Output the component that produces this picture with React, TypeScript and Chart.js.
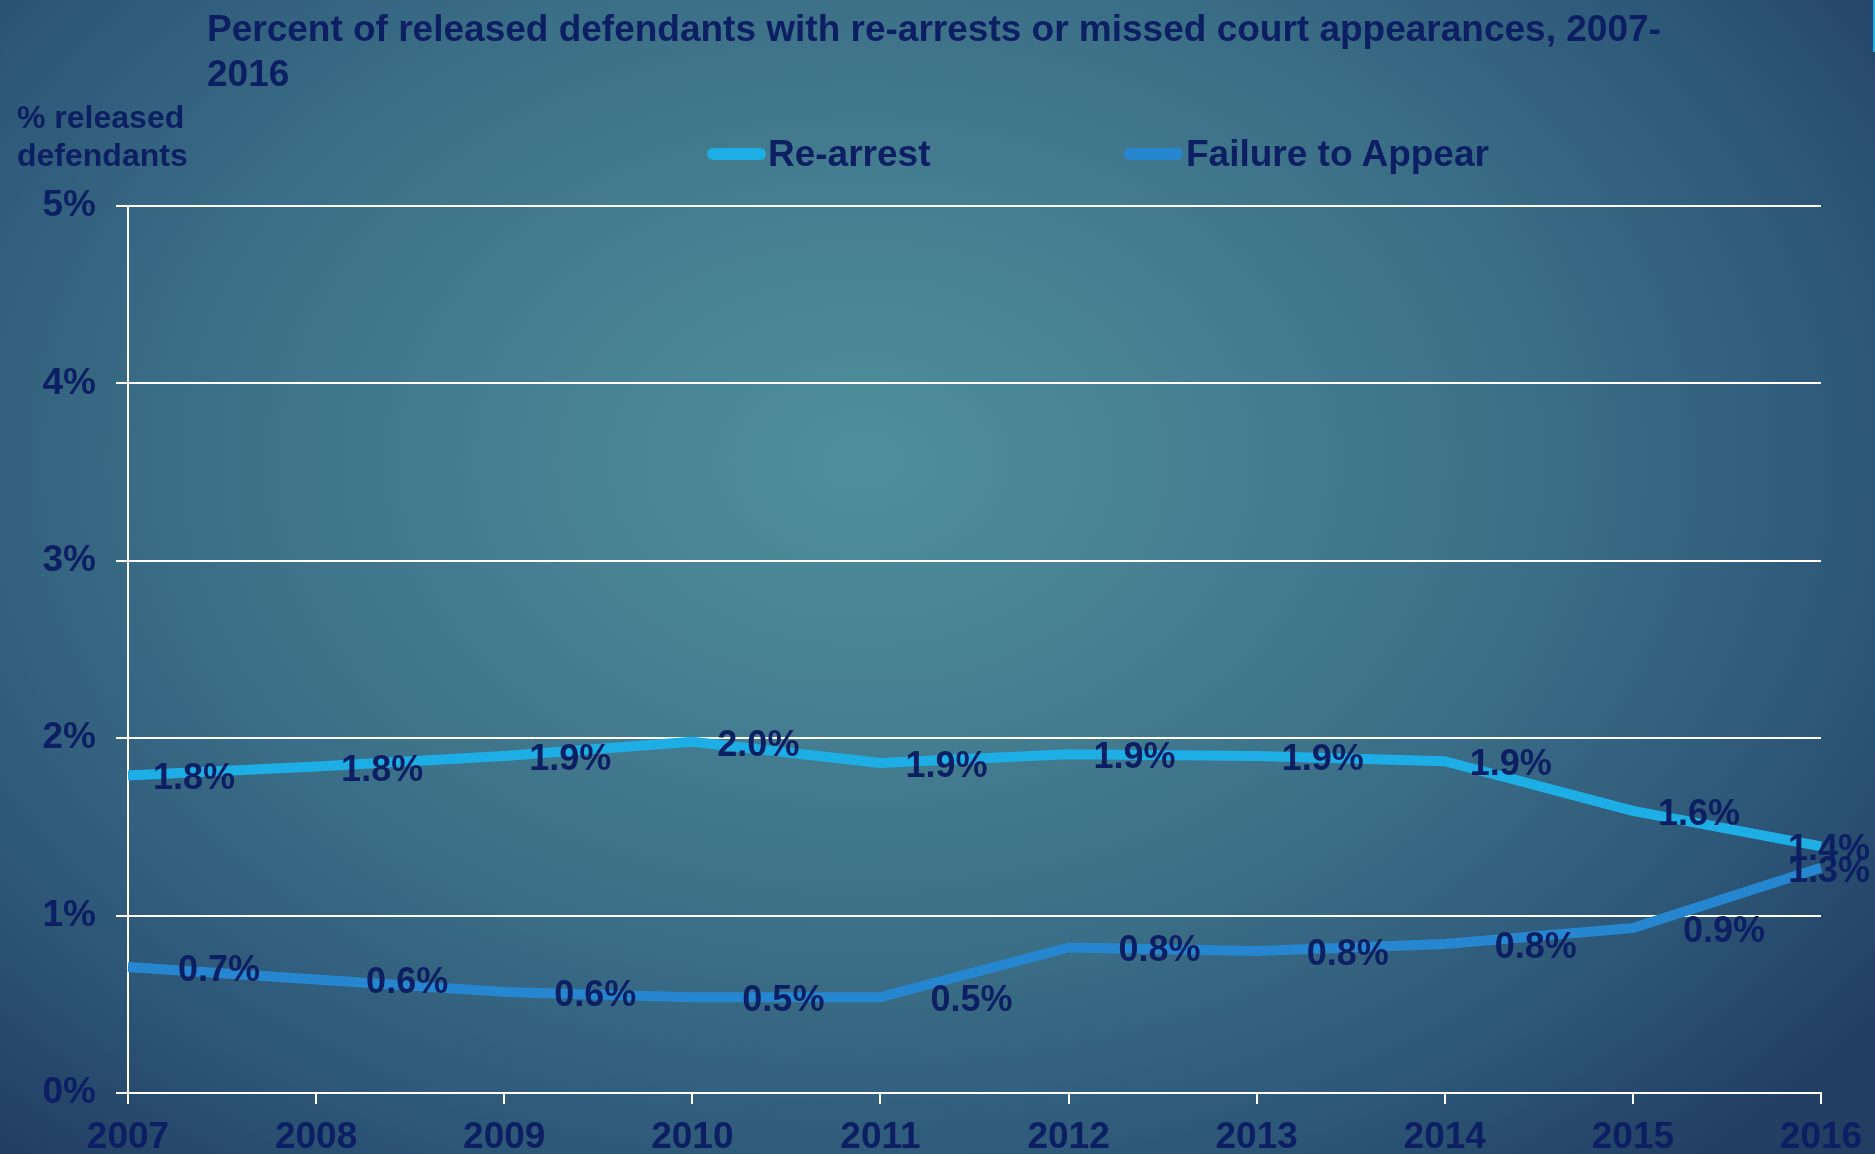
import React, { useEffect, useRef } from "react";
import { Chart, registerables } from "chart.js";

Chart.register(...registerables);

const years = ["2007", "2008", "2009", "2010", "2011", "2012", "2013", "2014", "2015", "2016"];
const reArrest = [1.79, 1.84, 1.9, 1.98, 1.86, 1.91, 1.9, 1.87, 1.59, 1.39];
const failureToAppear = [0.71, 0.64, 0.57, 0.54, 0.54, 0.82, 0.8, 0.84, 0.93, 1.27];
const seriesNames = ["Re-arrest", "Failure to Appear"];
const yTicks = [0, 1, 2, 3, 4, 5];
const titleLines = ["Percent of released defendants with re-arrests or missed court appearances, 2007-", "2016"];
const yCaptionLines = ["% released", "defendants"];

const W = 1875;
const H = 1154;
const NAVY = "#0c1f62";
const C_RE = "#1eaee6";
const C_FTA = "#2687d0";
const FONT = "'Liberation Sans', Arial, sans-serif";
const LABEL_OFFSETS = [25, 50];

const labelPlugin = {
  id: "pointLabels",
  afterDatasetsDraw(chart: any) {
    const ctx = chart.ctx;
    ctx.save();
    ctx.font = `bold 36px ${FONT}`;
    ctx.fillStyle = NAVY;
    ctx.textBaseline = "middle";
    ctx.textAlign = "left";
    chart.data.datasets.forEach((ds: any, i: number) => {
      const meta = chart.getDatasetMeta(i);
      meta.data.forEach((pt: any, j: number) => {
        const txt = Number(ds.data[j]).toFixed(1) + "%";
        const w = ctx.measureText(txt).width;
        let x = pt.x + LABEL_OFFSETS[i];
        if (x + w > chart.width - 5) x = chart.width - 5 - w;
        ctx.fillText(txt, x, pt.y + 4);
      });
    });
    ctx.restore();
  },
};

export default function App() {
  const ref = useRef<HTMLCanvasElement | null>(null);
  useEffect(() => {
    if (!ref.current) return;
    const chart = new Chart(ref.current, {
      type: "line",
      data: {
        labels: years,
        datasets: [
          {
            label: seriesNames[0],
            data: reArrest,
            borderColor: C_RE,
            backgroundColor: C_RE,
            borderWidth: 10,
            pointRadius: 0,
            tension: 0,
            borderJoinStyle: "round",
          },
          {
            label: seriesNames[1],
            data: failureToAppear,
            borderColor: C_FTA,
            backgroundColor: C_FTA,
            borderWidth: 10,
            pointRadius: 0,
            tension: 0,
            borderJoinStyle: "round",
          },
        ],
      },
      options: {
        responsive: false,
        animation: false,
        devicePixelRatio: 1,
        layout: { padding: { left: 0, top: 206, right: 54, bottom: 0 } },
        plugins: {
          legend: { display: false },
          title: { display: false },
          tooltip: { enabled: false },
        },
        scales: {
          x: {
            type: "category",
            offset: false,
            grid: {
              drawOnChartArea: false,
              drawTicks: true,
              tickLength: 11,
              color: "#ffffff",
              lineWidth: 2,
            },
            border: { color: "#ffffff", width: 2 },
            ticks: {
              color: NAVY,
              font: { family: FONT, size: 37, weight: "bold" },
              padding: 12,
              autoSkip: false,
              maxRotation: 0,
            },
            afterFit: (s: any) => {
              s.height = 61;
            },
          },
          y: {
            min: yTicks[0],
            max: yTicks[yTicks.length - 1],
            afterBuildTicks: (s: any) => {
              s.ticks = yTicks.map((v) => ({ value: v }));
            },
            grid: {
              color: "#ffffff",
              lineWidth: 2,
              tickLength: 12,
            },
            border: { color: "#ffffff", width: 2 },
            ticks: {
              color: NAVY,
              font: { family: FONT, size: 37, weight: "bold" },
              padding: 20,
              callback: (v: any) => v + "%",
            },
            afterFit: (s: any) => {
              s.width = 128;
            },
          },
        },
      },
      plugins: [labelPlugin],
    } as any);
    return () => chart.destroy();
  }, []);

  const legendItems = [
    { name: seriesNames[0], color: C_RE, boxLeft: 707, textLeft: 768 },
    { name: seriesNames[1], color: C_FTA, boxLeft: 1124, textLeft: 1186 },
  ];

  return (
    <div
      style={{
        position: "fixed",
        left: 0,
        top: 0,
        width: W,
        height: H,
        overflow: "hidden",
        background:
          "radial-gradient(ellipse 68% 80% at 46% 40%, #4e8f9b 0%, #467f91 28%, #3a6d86 55%, #2d5677 80%, #223f63 100%)",
        fontFamily: FONT,
      }}
    >
      <div
        style={{
          position: "absolute",
          left: 207,
          top: 6,
          fontWeight: "bold",
          fontSize: 37,
          lineHeight: "45px",
          color: NAVY,
          whiteSpace: "nowrap",
        }}
      >
        {titleLines.map((t, i) => (
          <div key={i}>{t}</div>
        ))}
      </div>
      <div
        style={{
          position: "absolute",
          left: 17,
          top: 98,
          fontWeight: "bold",
          fontSize: 32,
          lineHeight: "38px",
          color: NAVY,
          whiteSpace: "nowrap",
        }}
      >
        {yCaptionLines.map((t, i) => (
          <div key={i}>{t}</div>
        ))}
      </div>
      {legendItems.map((it, i) => (
        <React.Fragment key={i}>
          <div
            style={{
              position: "absolute",
              left: it.boxLeft,
              top: 148,
              width: 59,
              height: 12,
              borderRadius: 6,
              background: it.color,
            }}
          />
          <div
            style={{
              position: "absolute",
              left: it.textLeft,
              top: 131,
              fontWeight: "bold",
              fontSize: 37,
              lineHeight: "45px",
              color: NAVY,
              whiteSpace: "nowrap",
            }}
          >
            {it.name}
          </div>
        </React.Fragment>
      ))}
      <div style={{ position: "absolute", right: 0, top: 0, width: 2, height: 52, background: C_RE }} />
      <canvas
        ref={ref}
        width={W}
        height={H}
        style={{ position: "absolute", left: 0, top: 0, width: W, height: H }}
      />
    </div>
  );
}
